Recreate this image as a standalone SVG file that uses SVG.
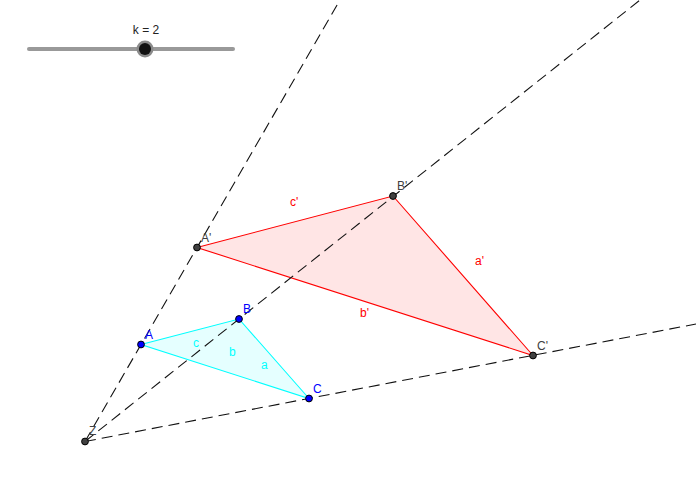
<svg xmlns="http://www.w3.org/2000/svg" width="700" height="500" viewBox="0 0 700 500">
<style>
text{font-family:"Liberation Sans",Arial,sans-serif;font-size:12px}
.ray{stroke:#111;stroke-width:1.1;stroke-dasharray:11 6;fill:none}
.pt{stroke:#000;stroke-width:1}
.blue{fill:#0000ff}.dark{fill:#404040}
.cy{fill:#00ffff}.red{fill:#ff0000}
</style>
<rect width="700" height="500" fill="#fff"/>
<g id="triangle-image">
<polygon points="197,247.5 393,196 533,355.5" fill="#ff0000" fill-opacity="0.1" stroke="#ff0000" stroke-width="1.1"/>
</g>
<g id="triangle-original">
<polygon points="141,344.5 239,319 309,398.5" fill="#00ffff" fill-opacity="0.1" stroke="#00ffff" stroke-width="1.1"/>
</g>
<g id="connectors">
<line class="ray" x1="85" y1="441.5" x2="340" y2="0"/>
<line class="ray" x1="85" y1="441.5" x2="640" y2="0"/>
<line class="ray" x1="85" y1="441.5" x2="696" y2="324"/>
</g>
<g id="slider">
<line x1="29" y1="49" x2="233" y2="49" stroke="#999" stroke-width="4" stroke-linecap="round"/>
<circle cx="145" cy="49" r="8.5" fill="#8a8a8a"/>
<circle cx="145" cy="49" r="6" fill="#111"/>
<text x="146" y="34" text-anchor="middle" fill="#222">k = 2</text>
</g>
<g id="point-Z"><circle class="pt dark" cx="85" cy="441.5" r="3.4"/><text x="89" y="435" fill="#404040">Z</text></g>
<g id="point-A"><circle class="pt blue" cx="141" cy="344.5" r="3.4"/><text x="145" y="339" fill="#0000ff">A</text></g>
<g id="point-B"><circle class="pt blue" cx="239" cy="319" r="3.4"/><text x="243" y="313" fill="#0000ff">B</text></g>
<g id="point-C"><circle class="pt blue" cx="309" cy="398.5" r="3.4"/><text x="313" y="393" fill="#0000ff">C</text></g>
<g id="point-A1"><circle class="pt dark" cx="197" cy="247.5" r="3.4"/><text x="201" y="242" fill="#404040">A'</text></g>
<g id="point-B1"><circle class="pt dark" cx="393" cy="196" r="3.4"/><text x="397" y="190" fill="#404040">B'</text></g>
<g id="point-C1"><circle class="pt dark" cx="533" cy="355.5" r="3.4"/><text x="537" y="350" fill="#404040">C'</text></g>
<g id="labels">
<text class="cy" x="193" y="347">c</text>
<text class="cy" x="229" y="356">b</text>
<text class="cy" x="261" y="369">a</text>
<text class="red" x="290" y="206">c'</text>
<text class="red" x="475" y="265">a'</text>
<text class="red" x="360" y="317">b'</text>
</g>
</svg>
